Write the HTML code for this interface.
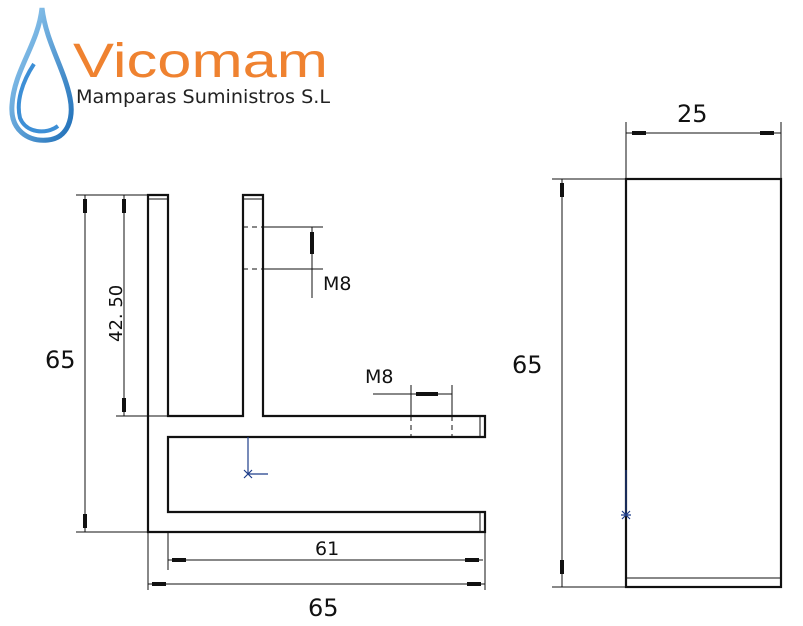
<!DOCTYPE html>
<html><head><style>
html,body{margin:0;padding:0;background:#fff;width:803px;height:626px;overflow:hidden}
svg{display:block}
text{font-family:"DejaVu Sans","Liberation Sans",sans-serif;fill:#111}
</style></head><body>
<svg width="803" height="626" viewBox="0 0 803 626">
<defs>
<linearGradient id="g" x1="0" y1="0" x2="1" y2="1"><stop offset="0" stop-color="#9fd3f5"/><stop offset="1" stop-color="#1f6fb8"/></linearGradient>
</defs>
<!-- logo drop -->
<path d="M42,8 C38,45 14,70 12,105 C10,130 28,142 48,140 C68,138 74,118 70,98 C64,68 46,42 42,8 Z" fill="none" stroke="url(#g)" stroke-width="5"/>
<path d="M34,64 C22,82 16,102 20,118 C26,133 46,135 58,126" fill="none" stroke="#3d8fd6" stroke-width="4"/>
<text x="73" y="77" textLength="255" lengthAdjust="spacingAndGlyphs" style="font-family:'Liberation Sans',sans-serif;font-size:48px;fill:#ef8230">Vicomam</text>
<text x="76" y="103" textLength="254" lengthAdjust="spacingAndGlyphs" style="font-family:'DejaVu Sans',sans-serif;font-size:19px;fill:#222">Mamparas Suministros S.L</text>

<g fill="none" stroke="#111">
<path d="M148,195 H168 V416 H243 V195 H263 V416 H485 V437 H168 V512 H485 V532 H148 Z" stroke-width="2.2"/>
<line x1="148" y1="199" x2="168" y2="199" stroke-width="1"/>
<line x1="243" y1="199" x2="263" y2="199" stroke-width="1"/>
<line x1="480" y1="416" x2="480" y2="437" stroke-width="1"/>
<line x1="480" y1="512" x2="480" y2="532" stroke-width="1"/>
<g stroke-width="1">
<line x1="76" y1="195" x2="148" y2="195"/><line x1="76" y1="532" x2="148" y2="532"/>
<line x1="85" y1="195" x2="85" y2="532"/>
<line x1="124" y1="195" x2="124" y2="416"/>
<line x1="116" y1="416" x2="168" y2="416"/>
<line x1="168" y1="532" x2="168" y2="570"/>
<line x1="485" y1="532" x2="485" y2="590"/>
<line x1="148" y1="532" x2="148" y2="590"/>
<line x1="168" y1="560" x2="483" y2="560"/>
<line x1="148" y1="584" x2="485" y2="584"/>
<line x1="243" y1="227" x2="263" y2="227" stroke-dasharray="5,4"/>
<line x1="243" y1="269" x2="263" y2="269" stroke-dasharray="5,4"/>
<line x1="263" y1="227" x2="323" y2="227"/><line x1="263" y1="269" x2="323" y2="269"/>
<line x1="312" y1="227" x2="312" y2="298"/>
<line x1="411" y1="385" x2="411" y2="416"/><line x1="452" y1="385" x2="452" y2="416"/>
<line x1="411" y1="416" x2="411" y2="437" stroke-dasharray="5,4"/>
<line x1="452" y1="416" x2="452" y2="437" stroke-dasharray="5,4"/>
<line x1="373" y1="394" x2="452" y2="394"/>
<line x1="552" y1="179" x2="626" y2="179"/><line x1="552" y1="587" x2="626" y2="587"/>
<line x1="562" y1="179" x2="562" y2="587"/>
<line x1="626" y1="122" x2="626" y2="179"/><line x1="781" y1="122" x2="781" y2="179"/>
<line x1="626" y1="133" x2="781" y2="133"/>
<line x1="626" y1="578" x2="781" y2="578"/>
</g>
<rect x="626" y="179" width="155" height="408" stroke-width="2.2"/>
</g>
<g fill="#111">
<rect x="83" y="199" width="4" height="14"/><rect x="83" y="514" width="4" height="14"/>
<rect x="122" y="199" width="4" height="14"/><rect x="122" y="398" width="4" height="14"/>
<rect x="172" y="558" width="14" height="4"/><rect x="465" y="558" width="14" height="4"/>
<rect x="152" y="582" width="14" height="4"/><rect x="467" y="582" width="14" height="4"/>
<rect x="310" y="232" width="4" height="22"/>
<rect x="416" y="392" width="22" height="4"/>
<rect x="560" y="183" width="4" height="14"/><rect x="560" y="560" width="4" height="14"/>
<rect x="632" y="131" width="14" height="4"/><rect x="760" y="131" width="14" height="4"/>
</g>
<g stroke="#1f3e8a" stroke-width="1.2" fill="none">
<line x1="248" y1="437" x2="248" y2="474"/><line x1="248" y1="474" x2="268" y2="474"/>
<path d="M244,470 l8,8 M252,470 l-8,8"/>
<line x1="626" y1="470" x2="626" y2="515"/>
<path d="M622,511 l8,8 M630,511 l-8,8 M621,515 h10"/>
</g>
<text x="45" y="368" font-size="24">65</text>
<text x="0" y="0" font-size="18" transform="translate(122,342) rotate(-90)">42. 50</text>
<text x="323" y="290" font-size="19">M8</text>
<text x="365" y="383" font-size="19">M8</text>
<text x="315" y="555" font-size="19">61</text>
<text x="308" y="616" font-size="24">65</text>
<text x="512" y="373" font-size="24">65</text>
<text x="677" y="122" font-size="24">25</text>
</svg>
</body></html>
